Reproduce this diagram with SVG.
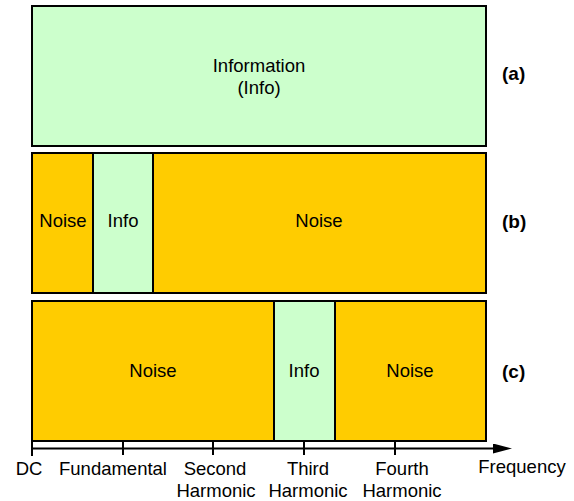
<svg xmlns="http://www.w3.org/2000/svg" width="574" height="501" viewBox="0 0 574 501">
<style>
.info{fill:#CCFFCC;stroke:#000;stroke-width:2}
.noise{fill:#FFCC00;stroke:#000;stroke-width:2}
text{font-family:"Liberation Sans",Arial,sans-serif;font-size:18.5px;fill:#000}
.c{text-anchor:middle}
.lbl{font-weight:bold;font-size:19px}
.ax{stroke:#000;stroke-width:2;fill:none}
</style>
<defs>
<marker id="arr" markerWidth="20" markerHeight="10" refX="1" refY="5" orient="auto" markerUnits="userSpaceOnUse" viewBox="0 0 20 10">
<path d="M0,0 L19,5 L0,10 Z" fill="#000"/>
</marker>
</defs>
<g id="row-a">
<rect class="info" x="32" y="6" width="454" height="140"/>
<text class="c" x="259" y="72">Information</text>
<text class="c" x="259" y="94">(Info)</text>
<text class="lbl" x="502" y="80">(a)</text>
</g>
<g id="row-b">
<rect class="noise" x="32" y="153" width="61" height="140"/>
<rect class="info" x="93" y="153" width="60" height="140"/>
<rect class="noise" x="153" y="153" width="333" height="140"/>
<text class="c" x="63" y="227">Noise</text>
<text class="c" x="123" y="227">Info</text>
<text class="c" x="319" y="227">Noise</text>
<text class="lbl" x="502" y="228">(b)</text>
</g>
<g id="row-c">
<rect class="noise" x="32" y="301" width="242" height="140"/>
<rect class="info" x="274" y="301" width="61" height="140"/>
<rect class="noise" x="335" y="301" width="151" height="140"/>
<text class="c" x="153" y="377">Noise</text>
<text class="c" x="304" y="377">Info</text>
<text class="c" x="410" y="377">Noise</text>
<text class="lbl" x="502" y="378">(c)</text>
</g>
<g id="connectors">
<line class="ax" x1="32" y1="448.5" x2="494" y2="448.5" marker-end="url(#arr)"/>
<line class="ax" x1="32" y1="441" x2="32" y2="456"/>
<line class="ax" x1="123" y1="441" x2="123" y2="455"/>
<line class="ax" x1="213" y1="441" x2="213" y2="455"/>
<line class="ax" x1="304" y1="441" x2="304" y2="455"/>
<line class="ax" x1="395" y1="441" x2="395" y2="455"/>
</g>
<g id="axis-labels">
<text class="c" x="29" y="475">DC</text>
<text class="c" x="113" y="475">Fundamental</text>
<text class="c" x="215" y="475">Second</text>
<text class="c" x="216" y="497">Harmonic</text>
<text class="c" x="308" y="475">Third</text>
<text class="c" x="308" y="497">Harmonic</text>
<text class="c" x="402" y="475">Fourth</text>
<text class="c" x="402" y="497">Harmonic</text>
<text class="c" x="522" y="473">Frequency</text>
</g>
</svg>
